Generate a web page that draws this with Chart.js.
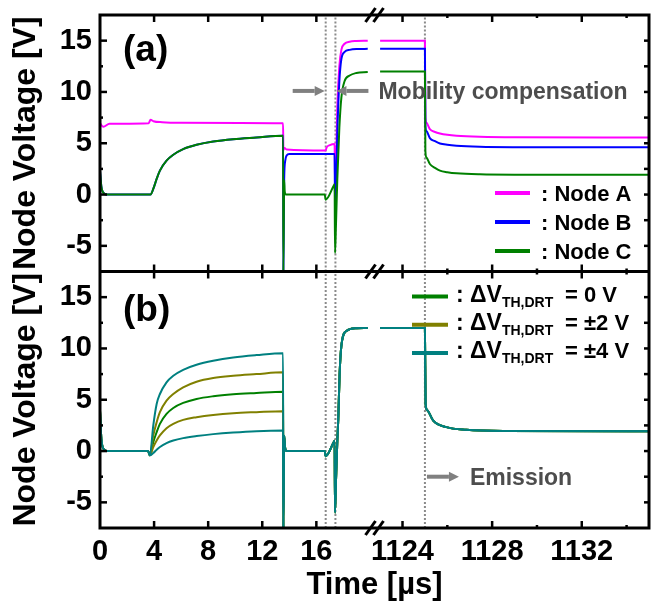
<!DOCTYPE html>
<html><head><meta charset="utf-8">
<script src="https://cdn.jsdelivr.net/npm/chart.js@4/dist/chart.umd.min.js"></script>
<style>html,body{margin:0;padding:0;background:#fff;}#wrap{width:660px;height:606px;position:relative;}</style>
</head><body><div id="wrap"><canvas id="c" width="660" height="606"></canvas></div>
<script>
// ---------------- axis ranges / ticks ----------------
const xRangeL = [0, 20.3];
const xRangeR = [1122.75, 1135];
const yRange = [-7.5, 17.5];
const xTicksL = [0, 4, 8, 12, 16];
const xTicksR = [1124, 1128, 1132];
const xMinorR = [1126, 1130, 1134];
const yTicks = [-5, 0, 5, 10, 15];
const yMinor = [-2.5, 2.5, 7.5, 12.5];
const guideTimesL = [16.69, 17.41];
const guideTimesR = [1125.0];

// ---------------- panel (a): Node A / B / C ----------------
const nodeA_tL = [0, 0.25, 0.7, 3.6, 3.74, 3.95, 4.6, 6.0, 13.54, 13.56, 13.62, 13.8, 16.69, 16.76, 17.0, 17.35, 17.38, 17.45, 17.55, 17.7, 17.85, 18.09, 18.46, 18.96, 19.8];
const nodeA_vL = [6.95, 6.6, 6.9, 6.95, 7.3, 7.15, 7.05, 7.0, 6.95, 4.3, 4.55, 4.4, 4.3, 4.6, 4.82, 4.92, 1.0, 2.5, 8.5, 12.5, 14.1, 14.7, 14.9, 14.97, 15.0];
const nodeB_tL = [0, 0.1, 0.3, 0.5, 3.74, 3.94, 4.19, 4.43, 4.92, 5.42, 6.15, 7.14, 8.37, 9.85, 11.57, 13.54, 13.56, 13.62, 13.7, 13.8, 14.0, 16.69, 17.35, 17.38, 17.45, 17.55, 17.7, 17.85, 18.09, 18.46, 18.96, 19.8];
const nodeB_vL = [2.3, 0.8, 0.1, 0, 0, 0.55, 1.52, 2.33, 3.3, 3.88, 4.43, 4.85, 5.17, 5.4, 5.56, 5.73, -7.6, 1.5, 3.3, 3.8, 3.95, 3.95, 3.95, -1.0, 0.5, 6.0, 11.0, 13.2, 13.9, 14.1, 14.18, 14.2];
const nodeC_tL = [0, 0.1, 0.3, 0.5, 3.74, 3.94, 4.19, 4.43, 4.92, 5.42, 6.15, 7.14, 8.37, 9.85, 11.57, 13.54, 13.56, 13.62, 13.66, 13.75, 16.62, 16.69, 17.3, 17.35, 17.38, 17.45, 17.55, 17.7, 17.85, 18.09, 18.46, 18.96, 19.8];
const nodeC_vL = [2.3, 0.8, 0.1, 0, 0, 0.55, 1.52, 2.33, 3.3, 3.88, 4.43, 4.85, 5.17, 5.4, 5.56, 5.73, -7.6, 1.4, 0.3, 0, 0, -0.5, 0.9, 1.0, -5.7, -3.0, 1.5, 6.5, 9.45, 11.07, 11.6, 11.85, 11.95];
const node_tR = [1123, 1125.0, 1125.02, 1125.07, 1125.22, 1125.45, 1125.67, 1126.0, 1126.41, 1127.45, 1129, 1135];
const nodeA_vR = [15.0, 15.0, 7.5, 7.0, 6.38, 6.1, 5.95, 5.82, 5.73, 5.63, 5.58, 5.56];
const nodeB_vR = [14.2, 14.2, 6.8, 6.2, 5.5, 5.2, 4.98, 4.85, 4.76, 4.66, 4.62, 4.6];
const nodeC_vR = [12.0, 12.0, 4.3, 3.62, 2.98, 2.6, 2.33, 2.18, 2.07, 1.97, 1.94, 1.94];

// ---------------- panel (b): ΔV_TH,DRT sweep ----------------
const bPre_t = [0, 0.1, 0.3, 0.5, 3.55];
const bPre_v = [3.95, 1.2, 0.15, 0, 0];
const bRise_t = [3.69, 3.94, 4.19, 4.43, 4.92, 5.42, 6.15, 7.14, 8.37, 9.85, 11.57, 13.54];
const dv_p4 = [-0.42, 2.49, 4.59, 5.56, 6.7, 7.34, 7.92, 8.41, 8.8, 9.12, 9.35, 9.54];
const dv_p2 = [-0.42, 1.52, 2.81, 3.79, 4.91, 5.56, 6.21, 6.76, 7.12, 7.34, 7.5, 7.67];
const dv_0 = [-0.42, 0.87, 1.84, 2.65, 3.62, 4.2, 4.69, 5.08, 5.34, 5.53, 5.66, 5.79];
const dv_m2 = [-0.42, 0.39, 1.03, 1.52, 2.23, 2.65, 3.04, 3.3, 3.52, 3.69, 3.79, 3.88];
const dv_m4 = [-0.42, -0.2, 0.13, 0.39, 0.78, 1.03, 1.26, 1.46, 1.65, 1.81, 1.94, 2.0];
const bPost_t = [13.56, 13.62, 13.68, 13.8, 16.62, 16.69, 17.3, 17.35, 17.38, 17.45, 17.55, 17.62, 17.72, 17.85, 18.22, 18.96, 19.8];
const bPost_v = [-7.6, 1.5, 0.4, 0, 0, -0.5, 0.9, 1.0, -6.0, -3.0, 1.0, 3.1, 7.5, 10.25, 11.7, 11.97, 12.0];
const bRight_t = [1123, 1125.0, 1125.03, 1125.1, 1125.37, 1125.96, 1126.85, 1128.5, 1135];
const bRight_v = [12.0, 12.0, 4.6, 4.0, 2.97, 2.33, 2.07, 1.96, 1.94];

// ---------------- labels ----------------
const nodeLabels = [': Node A', ': Node B', ': Node C'];
const dvLabels = ['= 0 V', '= \u00B12 V', '= \u00B14 V'];
const colors = { A: '#ff00ff', B: '#0000ff', C: '#008000', olive: '#808000', teal: '#008080', guide: '#8a8a8a' };

// ---------------- build ----------------
const FONT = "'Liberation Sans', Arial, Helvetica, sans-serif";
Chart.defaults.font.family = FONT;
Chart.defaults.color = '#000';

function pts(t, v) { return t.map((x, i) => ({ x: x, y: v[i] })); }
function series(label, data, color, xId, yId, order) {
  return { label, data, borderColor: color, backgroundColor: color, borderWidth: 2, pointRadius: 0,
    cubicInterpolationMode: 'monotone', fill: false, xAxisID: xId, yAxisID: yId, order };
}
function guide(t, xId, yId) {
  return { label: 'guide', data: [{ x: t, y: yRange[0] }, { x: t, y: yRange[1] }], borderColor: colors.guide,
    borderWidth: 2, borderDash: [2, 2], pointRadius: 0, fill: false, xAxisID: xId, yAxisID: yId, order: 30 };
}
const datasets = [];
['yA', 'yB'].forEach(yId => {
  guideTimesL.forEach(t => datasets.push(guide(t, 'xL', yId)));
  guideTimesR.forEach(t => datasets.push(guide(t, 'xR', yId)));
});
datasets.push(series('Node A', pts(nodeA_tL, nodeA_vL), colors.A, 'xL', 'yA', 3));
datasets.push(series('Node B', pts(nodeB_tL, nodeB_vL), colors.B, 'xL', 'yA', 2));
datasets.push(series('Node C', pts(nodeC_tL, nodeC_vL), colors.C, 'xL', 'yA', 1));
datasets.push(series('Node A', pts(node_tR, nodeA_vR), colors.A, 'xR', 'yA', 3));
datasets.push(series('Node B', pts(node_tR, nodeB_vR), colors.B, 'xR', 'yA', 2));
datasets.push(series('Node C', pts(node_tR, nodeC_vR), colors.C, 'xR', 'yA', 1));
const bCurves = [
  { v: dv_0, c: colors.C, o: 9 }, { v: dv_p2, c: colors.olive, o: 8 }, { v: dv_m2, c: colors.olive, o: 7 },
  { v: dv_p4, c: colors.teal, o: 6 }, { v: dv_m4, c: colors.teal, o: 5 }
];
bCurves.forEach(k => {
  datasets.push(series('dv', pts(bPre_t.concat(bRise_t, bPost_t), bPre_v.concat(k.v, bPost_v)), k.c, 'xL', 'yB', k.o));
  datasets.push(series('dv', pts(bRight_t, bRight_v), k.c, 'xR', 'yB', k.o));
});

const tickFont = { size: 29, weight: 'bold' };
function xAxis(range, ticks, weight) {
  return { type: 'linear', position: 'bottom', stack: 'x', stackWeight: 1, weight, min: range[0], max: range[1],
    afterBuildTicks: s => { s.ticks = ticks.map(v => ({ value: v })); },
    afterFit: s => { s.height = 78; s.paddingLeft = 0; s.paddingRight = 0; s.paddingTop = 0; s.paddingBottom = 0; },
    ticks: { font: tickFont, padding: 7, maxRotation: 0, autoSkip: false, color: '#000', callback: v => String(v) },
    grid: { display: false, drawTicks: false }, border: { display: false } };
}
function yAxis(weight) {
  return { type: 'linear', position: 'left', stack: 'y', stackWeight: 1, weight, min: yRange[0], max: yRange[1],
    afterBuildTicks: s => { s.ticks = yTicks.map(v => ({ value: v })); },
    afterFit: s => { s.width = 100; s.paddingLeft = 0; s.paddingRight = 0; s.paddingTop = 0; s.paddingBottom = 0; },
    ticks: { font: tickFont, padding: 8, autoSkip: false, color: '#000', callback: v => String(v) },
    title: { display: true, text: 'Node Voltage [V]', font: { size: 32, weight: 'bold' }, color: '#000', padding: { top: 7, bottom: 0 } },
    grid: { display: false, drawTicks: false }, border: { display: false } };
}

function arrow(ctx, x0, x1, y, color) {
  const dir = Math.sign(x1 - x0), head = 10, hw = 5;
  ctx.save();
  ctx.strokeStyle = color; ctx.fillStyle = color; ctx.lineWidth = 4;
  ctx.beginPath(); ctx.moveTo(x0, y); ctx.lineTo(x1 - dir * head, y); ctx.stroke();
  ctx.beginPath(); ctx.moveTo(x1, y); ctx.lineTo(x1 - dir * head, y - hw); ctx.lineTo(x1 - dir * head, y + hw); ctx.closePath(); ctx.fill();
  ctx.restore();
}

const decor = {
  id: 'decor',
  afterDraw(chart) {
    const { ctx, chartArea: ca, scales } = chart;
    const xL = scales.xL, xR = scales.xR, yA = scales.yA, yB = scales.yB;
    const mid = yA.bottom;
    ctx.save();
    ctx.strokeStyle = '#000';
    // frame and divider
    ctx.lineWidth = 3;
    ctx.strokeRect(ca.left, ca.top, ca.right - ca.left, ca.bottom - ca.top);
    ctx.beginPath(); ctx.moveTo(ca.left, mid); ctx.lineTo(ca.right, mid); ctx.stroke();
    // inward ticks
    ctx.lineWidth = 2.5;
    const seg = (x0, y0, x1, y1) => { ctx.beginPath(); ctx.moveTo(x0, y0); ctx.lineTo(x1, y1); ctx.stroke(); };
    [yA, yB].forEach(ys => {
      yTicks.forEach(v => { const p = ys.getPixelForValue(v); seg(ca.left, p, ca.left + 7, p); seg(ca.right, p, ca.right - 5, p); });
      yMinor.forEach(v => { const p = ys.getPixelForValue(v); seg(ca.left, p, ca.left + 3, p); seg(ca.right, p, ca.right - 5, p); });
      const mk = (xs, vals, len) => vals.forEach(v => { const p = xs.getPixelForValue(v); seg(p, ys.top, p, ys.top + len); seg(p, ys.bottom, p, ys.bottom - len); });
      mk(xL, xTicksL.slice(1), 7); mk(xR, xTicksR, 7); mk(xR, xMinorR, 3);
    });
    // axis break marks
    const bx = xL.right;
    ctx.lineWidth = 3;
    [ca.top, mid, ca.bottom].forEach(y => {
      [-4, 4].forEach(d => seg(bx + d - 5, y + 7, bx + d + 5, y - 7));
    });
    // panel labels
    ctx.fillStyle = '#000';
    ctx.textAlign = 'left'; ctx.textBaseline = 'alphabetic';
    ctx.font = `bold 37px ${FONT}`;
    ctx.fillText('(a)', ca.left + 23, ca.top + 46);
    ctx.fillText('(b)', ca.left + 23, mid + 49);
    // legend (a)
    ctx.font = `bold 22px ${FONT}`;
    [colors.A, colors.B, colors.C].forEach((c, i) => {
      const y = ca.top + 178 + i * 29;
      ctx.strokeStyle = c; ctx.lineWidth = 4; seg(495, y, 530, y);
      ctx.fillText(nodeLabels[i], 541, y + 8);
    });
    // legend (b)
    [colors.C, colors.olive, colors.teal].forEach((c, i) => {
      const y = mid + 25 + i * 28.3;
      ctx.strokeStyle = c; ctx.lineWidth = 4; seg(412, y, 448, y);
      ctx.font = `bold 23px ${FONT}`;
      const s1 = ': \u0394V';
      ctx.fillText(s1, 456, y + 5);
      const w1 = ctx.measureText(s1).width;
      ctx.font = `bold 14px ${FONT}`;
      ctx.fillText('TH,DRT', 456 + w1, y + 10);
      ctx.font = `bold 22px ${FONT}`;
      ctx.fillText(dvLabels[i], 565, y + 5);
    });
    // annotations
    const gx1 = xL.getPixelForValue(guideTimesL[0]), gx2 = xL.getPixelForValue(guideTimesL[1]);
    const ay = yA.getPixelForValue(10.1);
    arrow(ctx, gx1 - 33, gx1 - 1, ay, '#808080');
    arrow(ctx, gx2 + 33, gx2 + 1, ay, '#808080');
    ctx.fillStyle = '#4d4d4d';
    ctx.font = `bold 23px ${FONT}`;
    ctx.fillText('Mobility compensation', gx2 + 43, ay + 8);
    const gx3 = xR.getPixelForValue(guideTimesR[0]);
    const ey = yB.getPixelForValue(-2.5);
    arrow(ctx, gx3 + 2, gx3 + 34, ey, '#808080');
    ctx.fillText('Emission', gx3 + 45, ey + 8);
    // x-axis title
    ctx.fillStyle = '#000';
    ctx.font = `bold 31px ${FONT}`;
    ctx.textAlign = 'center';
    ctx.fillText('Time [\u00B5s]', (ca.left + ca.right) / 2, 594);
    ctx.restore();
  }
};

new Chart(document.getElementById('c'), {
  type: 'line',
  data: { datasets },
  options: {
    responsive: false, animation: false, devicePixelRatio: 1,
    layout: { padding: { left: 0, right: 11, top: 15, bottom: 0 } },
    plugins: { legend: { display: false }, tooltip: { enabled: false }, title: { display: false } },
    scales: { xL: xAxis(xRangeL, xTicksL, 0), xR: xAxis(xRangeR, xTicksR, 1), yA: yAxis(1), yB: yAxis(0) }
  },
  plugins: [decor]
});
</script></body></html>
